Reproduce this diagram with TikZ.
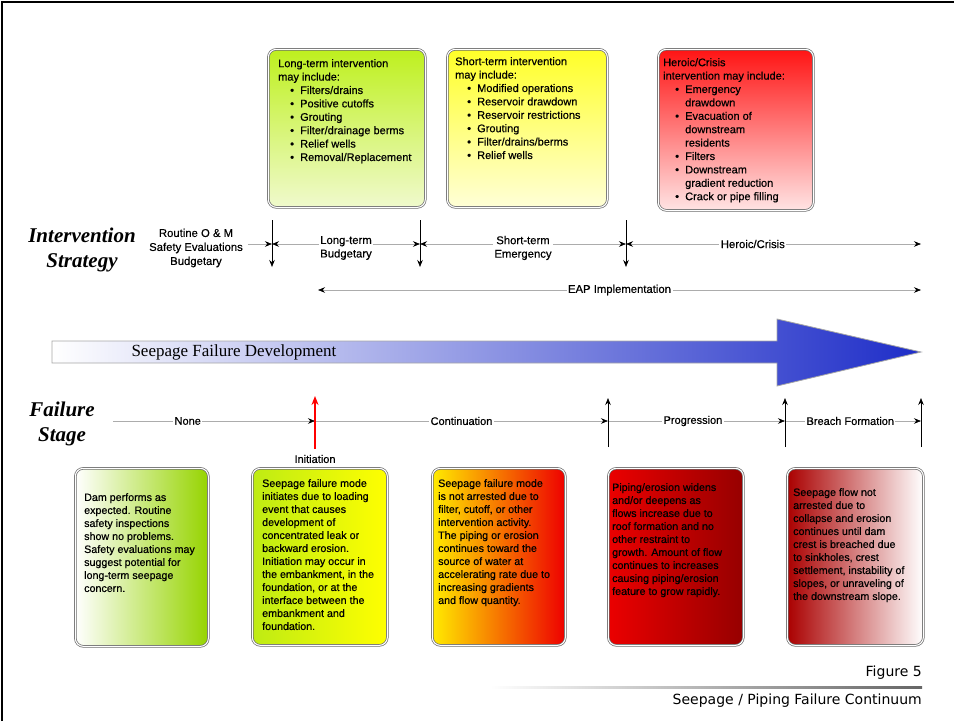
\documentclass[tikz,border=0pt]{standalone}
\usepackage{fontspec}
\setmainfont{Liberation Sans}
\newfontfamily\heavy{Liberation Sans}[FakeBold=0.45]
\newfontfamily\serifface{Liberation Serif}
\newfontfamily\capface{DejaVu Sans}
\usetikzlibrary{arrows.meta,calc}

\definecolor{ltTop}{RGB}{190,240,30}
\definecolor{ltBot}{RGB}{240,250,205}
\definecolor{stTop}{RGB}{255,255,40}
\definecolor{stBot}{RGB}{255,255,215}
\definecolor{hcTop}{RGB}{255,20,20}
\definecolor{hcBot}{RGB}{255,228,228}
\definecolor{noneR}{RGB}{150,212,0}
\definecolor{initL}{RGB}{190,235,20}
\definecolor{contL}{RGB}{255,235,0}
\definecolor{contM}{RGB}{255,140,0}
\definecolor{contR}{RGB}{238,0,0}
\definecolor{progL}{RGB}{235,0,0}
\definecolor{progR}{RGB}{150,0,0}
\definecolor{brchL}{RGB}{170,0,0}
\definecolor{flowR}{RGB}{30,45,200}

\newcommand{\bitem}[1]{\hspace*{12pt}\makebox[10pt][l]{\textbullet}#1}
\newcommand{\bcont}[1]{\hspace*{22pt}#1}

\tikzset{
  blk/.tip={Stealth[length=7pt,width=5.5pt,color=black]},
  panel/.style={draw=gray!85!black, double=white, double distance=1.1pt, line width=0.7pt, rounded corners=8pt, anchor=north west},
  toptext/.style={anchor=north west, inner sep=0pt, align=left, font=\heavy\fontsize{11}{13.4}\selectfont},
  boxtext/.style={anchor=north west, inner sep=0pt, align=left, font=\heavy\fontsize{10.7}{13}\selectfont},
  axisline/.style={draw=gray!65, line width=0.6pt},
  lbl/.style={fill=white, inner sep=1.5pt, align=center, font=\heavy\fontsize{11.3}{13.5}\selectfont},
  marker/.style={draw=black, line width=0.7pt, -{Stealth[length=7pt,width=5.5pt]}},
  ttl/.style={align=center, font=\serifface\bfseries\itshape\fontsize{21}{24.5}\selectfont}
}

\begin{document}
\begin{tikzpicture}[x=1pt,y=-1pt]
\useasboundingbox (0,0) rectangle (954,721);
% frame
\draw[line width=2pt] (2,721) -- (2,2) -- (954,2);

% intervention panels
\node[panel, top color=ltTop, bottom color=ltBot, minimum width=157, minimum height=158] (ltbox) at (268,49) {};
\node[panel, top color=stTop, bottom color=stBot, minimum width=160, minimum height=158] (stbox) at (447,49) {};
\node[panel, top color=hcTop, bottom color=hcBot, minimum width=155, minimum height=161] (hcbox) at (658,49) {};

\node[toptext] (lttxt) at (278,59) {Long-term intervention\\may include:\\\bitem{Filters/drains}\\\bitem{Positive cutoffs}\\\bitem{Grouting}\\\bitem{Filter/drainage berms}\\\bitem{Relief wells}\\\bitem{Removal/Replacement}};
\node[toptext] (sttxt) at (455,57) {Short-term intervention\\may include:\\\bitem{Modified operations}\\\bitem{Reservoir drawdown}\\\bitem{Reservoir restrictions}\\\bitem{Grouting}\\\bitem{Filter/drains/berms}\\\bitem{Relief wells}};
\node[toptext] (hctxt) at (663,58) {Heroic/Crisis\\intervention may include:\\\bitem{Emergency}\\\bcont{drawdown}\\\bitem{Evacuation of}\\\bcont{downstream}\\\bcont{residents}\\\bitem{Filters}\\\bitem{Downstream}\\\bcont{gradient reduction}\\\bitem{Crack or pipe filling}};

% intervention strategy axis
\node[ttl] (isttl) at (82,250) {Intervention\\Strategy};
\node[align=center, font=\heavy\fontsize{11.3}{14}\selectfont] (routine) at (196,248) {Routine O \& M\\Safety Evaluations\\Budgetary};
\coordinate (s0) at (248,244);
\coordinate (s1) at (272,244);
\coordinate (s2) at (420,244);
\coordinate (s3) at (626,244);
\coordinate (s4) at (921,244);
\draw[axisline, -blk] (s0) -- (s1);
\draw[axisline, blk-blk] (s1) -- node[lbl, yshift=-4pt] (ltlbl) {Long-term\\Budgetary} (s2);
\draw[axisline, blk-blk] (s2) -- node[lbl, yshift=-4pt] (stlbl) {Short-term\\Emergency} (s3);
\draw[axisline, blk-blk] (s3) -- node[lbl, pos=0.43] (hclbl) {Heroic/Crisis} (s4);
\foreach \x [count=\i] in {272,420,626} {
  \coordinate (v\i t) at (\x,220);
  \coordinate (v\i b) at (\x,267);
  \draw[marker] (v\i t) -- (v\i b);
}
\coordinate (e0) at (318,290);
\coordinate (e1) at (921,290);
\draw[axisline, blk-blk] (e0) -- node[lbl] (eaplbl) {EAP Implementation} (e1);

% seepage failure development arrow
\coordinate (a0) at (52,341);
\coordinate (a1) at (777,341);
\coordinate (a2) at (777,319);
\coordinate (a3) at (921,352);
\coordinate (a4) at (777,386);
\coordinate (a5) at (777,363);
\coordinate (a6) at (52,363);
\draw[gray!70, line width=0.8pt, left color=white, right color=flowR] (a0) -- (a1) -- (a2) -- (a3) -- (a4) -- (a5) -- (a6) -- cycle;
\node[font=\serifface\fontsize{17}{20}\selectfont, anchor=west] (flowlbl) at (128,352) {Seepage Failure Development};

% failure stage axis
\node[ttl] (fsttl) at (62,424) {Failure\\Stage};
\coordinate (f0) at (113,421);
\coordinate (f1) at (315,421);
\coordinate (f2) at (608,421);
\coordinate (f3) at (785,421);
\coordinate (f4) at (921,421);
\draw[axisline, -blk] (f0) -- node[lbl, pos=0.37, font=\heavy\fontsize{11}{13}\selectfont] (nonelbl) {None} (f1);
\draw[axisline, -blk] (f1) -- node[lbl, font=\heavy\fontsize{11}{13}\selectfont] (contlbl) {Continuation} (f2);
\draw[axisline, -blk] (f2) -- node[lbl, pos=0.48, font=\heavy\fontsize{11}{13}\selectfont] (proglbl) {Progression} (f3);
\draw[axisline, -blk] (f3) -- node[lbl, pos=0.48, font=\heavy\fontsize{11}{13}\selectfont] (brchlbl) {Breach Formation} (f4);
\coordinate (r0) at (315,449);
\coordinate (r1) at (315,396);
\draw[red, line width=2pt, -{Stealth[length=9pt,width=7pt]}] (r0) -- (r1);
\node[font=\heavy\fontsize{11}{13}\selectfont] (initlbl) at (315,459) {Initiation};
\foreach \x [count=\i] in {608,785,921} {
  \coordinate (m\i b) at (\x,447);
  \coordinate (m\i t) at (\x,398);
  \draw[marker] (m\i b) -- (m\i t);
}

% failure stage panels
\node[panel, left color=white, right color=noneR, minimum width=133, minimum height=178] (nonebox) at (75,468) {};
\node[panel, left color=initL, right color=yellow, minimum width=135, minimum height=177] (initbox) at (252,468) {};
\node[panel, left color=contL, middle color=contM, right color=contR, minimum width=133, minimum height=177] (contbox) at (432,468) {};
\node[panel, left color=progL, right color=progR, minimum width=135, minimum height=177] (progbox) at (608,468) {};
\node[panel, left color=brchL, right color=white, minimum width=136, minimum height=177] (brchbox) at (787,468) {};

\node[boxtext] (nonetxt) at (84,493) {Dam performs as\\expected. Routine\\safety inspections\\show no problems.\\Safety evaluations may\\suggest potential for\\long-term seepage\\concern.};
\node[boxtext] (inittxt) at (262,479) {Seepage failure mode\\initiates due to loading\\event that causes\\development of\\concentrated leak or\\backward erosion.\\Initiation may occur in\\the embankment, in the\\foundation, or at the\\interface between the\\embankment and\\foundation.};
\node[boxtext] (conttxt) at (438,479) {Seepage failure mode\\is not arrested due to\\filter, cutoff, or other\\intervention activity.\\The piping or erosion\\continues toward the\\source of water at\\accelerating rate due to\\increasing gradients\\and flow quantity.};
\node[boxtext] (progtxt) at (612,483) {Piping/erosion widens\\and/or deepens as\\flows increase due to\\roof formation and no\\other restraint to\\growth. Amount of flow\\continues to increases\\causing piping/erosion\\feature to grow rapidly.};
\node[boxtext] (brchtxt) at (793,488) {Seepage flow not\\arrested due to\\collapse and erosion\\continues until dam\\crest is breached due\\to sinkholes, crest\\settlement, instability of\\slopes, or unraveling of\\the downstream slope.};

% caption
\shade[left color=white, right color=gray!80!black] (490,686.5) rectangle (922,688.2);
\node[anchor=east, inner sep=0pt, font=\capface\fontsize{14}{16}\selectfont] (fignum) at (922,673) {Figure 5};
\node[anchor=east, inner sep=0pt, font=\capface\fontsize{14}{16}\selectfont] (figttl) at (922,701) {Seepage / Piping Failure Continuum};
\end{tikzpicture}
\end{document}
